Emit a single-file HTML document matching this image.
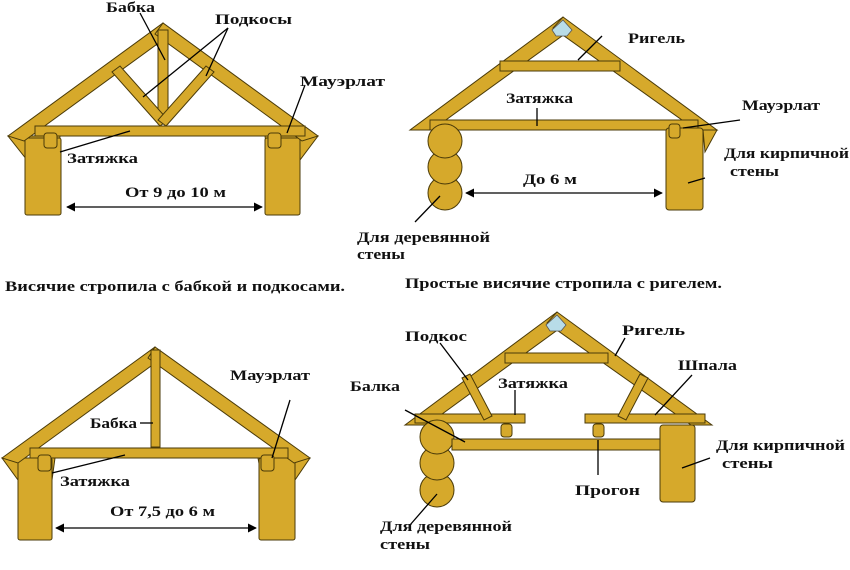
<!DOCTYPE html>
<html><head><meta charset="utf-8"><style>
html,body{margin:0;padding:0;background:#fff;width:850px;height:570px;overflow:hidden}
svg text{font-family:"Liberation Serif",serif;font-weight:bold;fill:#111}
</style></head><body>
<svg width="850" height="570" viewBox="0 0 850 570" xmlns="http://www.w3.org/2000/svg">
<defs>
<marker id="ar" viewBox="0 0 10 10" refX="9" refY="5" markerWidth="7" markerHeight="7" orient="auto-start-reverse"><path d="M0,0 L10,5 L0,10 z" fill="#000"/></marker>
</defs>
<g fill="#D6A92B" stroke="#4a3a08" stroke-width="1">
<!-- Diagram 1 -->
<path d="M8,136 L60,136 L58,160 L27,160 Z"/>
<rect x="25" y="138" width="36" height="77" rx="2"/>
<path d="M318,136 L265,136 L268,160 L300,160 Z"/>
<rect x="265" y="138" width="35" height="77" rx="2"/>
<polygon points="8,136 163,23 171,34 24,141"/>
<polygon points="318,136 163,23 155,34 302,141"/>
<rect x="35" y="126" width="270" height="10"/>
<rect x="158" y="30" width="10" height="94"/>
<polygon points="160,126 112,72 120,66 168,120"/>
<polygon points="166,126 214,72 206,66 158,120"/>
<rect x="44" y="133" width="13" height="15" rx="3"/>
<rect x="268" y="133" width="13" height="15" rx="3"/>
<!-- Diagram 2 -->
<polygon points="410,130 563,17 573,28 432,130"/>
<polygon points="717,130 563,17 553,28 696,130"/>
<rect x="430" y="120" width="268" height="10"/>
<rect x="500" y="61" width="120" height="10"/>
<rect x="666" y="128" width="37" height="82" rx="3"/>
<path d="M703,130 L717,130 L705,152 Z"/>
<circle cx="445" cy="193" r="17"/><circle cx="445" cy="167" r="17"/><circle cx="445" cy="141" r="17"/>
<rect x="669" y="124" width="11" height="14" rx="3"/>
<!-- Diagram 3 -->
<path d="M2,458 L55,458 L52,480 L18,480 Z"/>
<rect x="18" y="458" width="34" height="82" rx="2"/>
<path d="M310,458 L258,458 L262,480 L295,480 Z"/>
<rect x="259" y="458" width="36" height="82" rx="2"/>
<polygon points="2,458 155,347 162,358 18,463"/>
<polygon points="310,458 155,347 148,358 294,463"/>
<rect x="30" y="448" width="258" height="10"/>
<rect x="151" y="350" width="9" height="97"/>
<rect x="38" y="455" width="13" height="16" rx="3"/>
<rect x="261" y="455" width="13" height="16" rx="3"/>
<!-- Diagram 4 -->
<polygon points="405,425 557,312 567,323 427,425"/>
<polygon points="712,425 557,312 547,323 691,425"/>
<rect x="505" y="353" width="103" height="10"/>
<rect x="415" y="414" width="110" height="9"/>
<rect x="585" y="414" width="120" height="9"/>
<polygon points="462,378 470,374 492,416 484,420"/>
<polygon points="648,378 640,374 618,416 626,420"/>
<rect x="501" y="424" width="11" height="13" rx="3"/>
<rect x="593" y="424" width="11" height="13" rx="3"/>
<circle cx="437" cy="490" r="17"/><circle cx="437" cy="463" r="17"/><circle cx="437" cy="437" r="17"/>
<rect x="452" y="439" width="215" height="11"/>
<rect x="660" y="425" width="35" height="77" rx="3"/>
</g>
<polygon points="563,20 572,30 567,36 556,36 552,30" fill="#b8dce8" stroke="#555" stroke-width="0.8"/>
<polygon points="557,315 566,325 561,331 550,331 546,325" fill="#b8dce8" stroke="#555" stroke-width="0.8"/>
<g stroke="#000" stroke-width="1.3" fill="none">
<line x1="140" y1="13" x2="165" y2="60"/>
<line x1="228" y1="28" x2="143" y2="97"/>
<line x1="228" y1="28" x2="206" y2="76"/>
<line x1="60" y1="152" x2="130" y2="131"/>
<line x1="305" y1="85" x2="287" y2="133"/>
<line x1="602" y1="36" x2="578" y2="60"/>
<line x1="537" y1="108" x2="537" y2="126"/>
<line x1="740" y1="120" x2="683" y2="128"/>
<line x1="705" y1="178" x2="688" y2="183"/>
<line x1="415" y1="222" x2="440" y2="196"/>
<line x1="52" y1="473" x2="125" y2="455"/>
<line x1="140" y1="423" x2="153" y2="423"/>
<line x1="290" y1="400" x2="272" y2="458"/>
<line x1="440" y1="343" x2="468" y2="380"/>
<line x1="515" y1="390" x2="515" y2="415"/>
<line x1="625" y1="338" x2="615" y2="356"/>
<line x1="692" y1="375" x2="655" y2="415"/>
<line x1="405" y1="410" x2="465" y2="442"/>
<line x1="598" y1="440" x2="598" y2="475"/>
<line x1="710" y1="458" x2="682" y2="468"/>
<line x1="410" y1="525" x2="437" y2="494"/>
<line x1="67" y1="207" x2="262" y2="207" marker-start="url(#ar)" marker-end="url(#ar)"/>
<line x1="466" y1="193" x2="662" y2="193" marker-start="url(#ar)" marker-end="url(#ar)"/>
<line x1="56" y1="528" x2="256" y2="528" marker-start="url(#ar)" marker-end="url(#ar)"/>
</g>
<g font-size="15" lengthAdjust="spacingAndGlyphs">
<text x="106" y="12" textLength="49" lengthAdjust="spacingAndGlyphs">Бабка</text>
<text x="215" y="24" textLength="77" lengthAdjust="spacingAndGlyphs">Подкосы</text>
<text x="300" y="86" textLength="85" lengthAdjust="spacingAndGlyphs">Мауэрлат</text>
<text x="67" y="163" textLength="71" lengthAdjust="spacingAndGlyphs">Затяжка</text>
<text x="125" y="197" textLength="101" lengthAdjust="spacingAndGlyphs">От 9 до 10 м</text>
<text x="628" y="43" textLength="57" lengthAdjust="spacingAndGlyphs">Ригель</text>
<text x="506" y="103" textLength="67" lengthAdjust="spacingAndGlyphs">Затяжка</text>
<text x="742" y="110" textLength="78" lengthAdjust="spacingAndGlyphs">Мауэрлат</text>
<text x="724" y="158" textLength="125" lengthAdjust="spacingAndGlyphs">Для кирпичной</text>
<text x="730" y="176" textLength="49" lengthAdjust="spacingAndGlyphs">стены</text>
<text x="523" y="184" textLength="54" lengthAdjust="spacingAndGlyphs">До 6 м</text>
<text x="357" y="242" textLength="133" lengthAdjust="spacingAndGlyphs">Для деревянной</text>
<text x="357" y="259" textLength="48" lengthAdjust="spacingAndGlyphs">стены</text>
<text x="5" y="291" textLength="340" lengthAdjust="spacingAndGlyphs">Висячие  стропила с бабкой и подкосами.</text>
<text x="405" y="288" textLength="317" lengthAdjust="spacingAndGlyphs">Простые висячие  стропила с ригелем.</text>
<text x="230" y="380" textLength="80" lengthAdjust="spacingAndGlyphs">Мауэрлат</text>
<text x="90" y="428" textLength="47" lengthAdjust="spacingAndGlyphs">Бабка</text>
<text x="60" y="486" textLength="70" lengthAdjust="spacingAndGlyphs">Затяжка</text>
<text x="110" y="516" textLength="105" lengthAdjust="spacingAndGlyphs">От 7,5 до 6 м</text>
<text x="405" y="341" textLength="62" lengthAdjust="spacingAndGlyphs">Подкос</text>
<text x="622" y="335" textLength="63" lengthAdjust="spacingAndGlyphs">Ригель</text>
<text x="498" y="388" textLength="70" lengthAdjust="spacingAndGlyphs">Затяжка</text>
<text x="678" y="370" textLength="59" lengthAdjust="spacingAndGlyphs">Шпала</text>
<text x="350" y="391" textLength="50" lengthAdjust="spacingAndGlyphs">Балка</text>
<text x="716" y="450" textLength="129" lengthAdjust="spacingAndGlyphs">Для кирпичной</text>
<text x="722" y="468" textLength="51" lengthAdjust="spacingAndGlyphs">стены</text>
<text x="575" y="495" textLength="65" lengthAdjust="spacingAndGlyphs">Прогон</text>
<text x="380" y="531" textLength="132" lengthAdjust="spacingAndGlyphs">Для деревянной</text>
<text x="380" y="549" textLength="50" lengthAdjust="spacingAndGlyphs">стены</text>
</g>
</svg>
</body></html>
